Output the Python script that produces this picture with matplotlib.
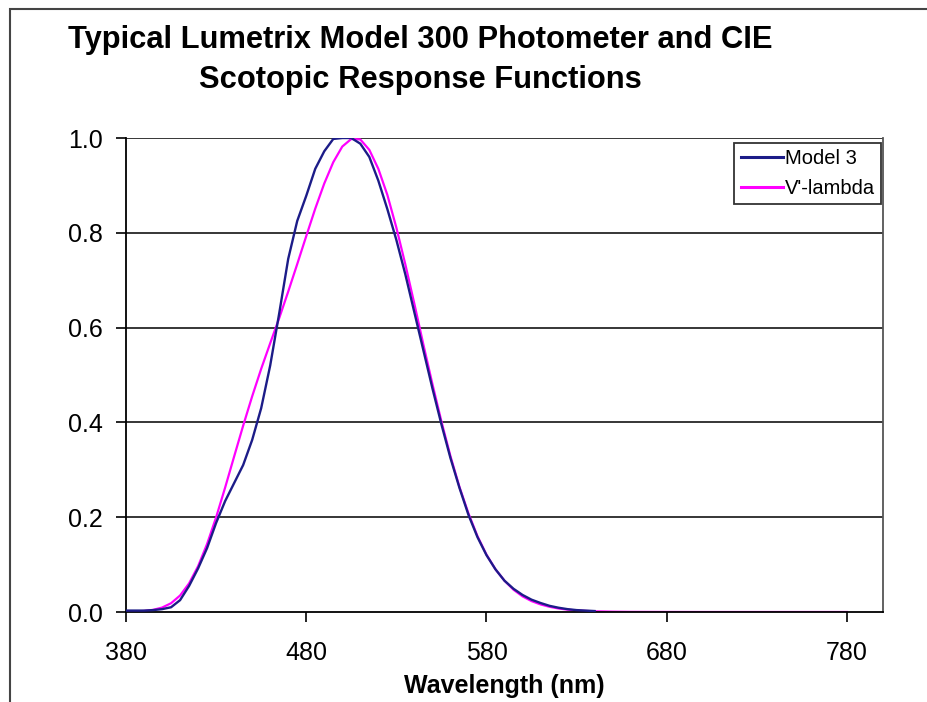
import numpy as np
import matplotlib
matplotlib.use("Agg")
import matplotlib.pyplot as plt
from matplotlib.patches import Rectangle

plt.rcParams['font.family'] = ['Liberation Sans', 'DejaVu Sans']

# wavelength grid (nm) for the meter curve
wl_model = [380, 385, 390, 395, 400, 405, 410, 415, 420, 425, 430, 435, 440,
            445, 450, 455, 460, 465, 470, 475, 480, 485, 490, 495, 500, 505,
            510, 515, 520, 525, 530, 535, 540, 545, 550, 555, 560, 565, 570,
            575, 580, 585, 590, 595, 600, 605, 610, 615, 620, 625, 630, 635, 640]
model3 = [0.003, 0.003, 0.003, 0.004, 0.006, 0.010, 0.025, 0.055, 0.092, 0.135,
          0.188, 0.234, 0.272, 0.310, 0.363, 0.430, 0.520, 0.630, 0.745, 0.825,
          0.878, 0.935, 0.972, 0.998, 1.000, 1.000, 0.988, 0.960, 0.910, 0.850,
          0.785, 0.712, 0.632, 0.552, 0.472, 0.396, 0.325, 0.262, 0.205, 0.158,
          0.120, 0.090, 0.066, 0.049, 0.036, 0.026, 0.019, 0.013, 0.009, 0.006,
          0.004, 0.003, 0.002]

# scotopic V'(lambda)
wl_vprime = [380, 385, 390, 395, 400, 405, 410, 415, 420, 425, 430, 435, 440,
             445, 450, 455, 460, 465, 470, 475, 480, 485, 490, 495, 500, 505,
             510, 515, 520, 525, 530, 535, 540, 545, 550, 555, 560, 565, 570,
             575, 580, 585, 590, 595, 600, 605, 610, 615, 620, 625, 630, 635,
             640, 650, 660, 680, 700, 740, 780]
vprime = [0.0006, 0.0011, 0.0022, 0.0045, 0.0093, 0.0185, 0.0348, 0.0604,
          0.0966, 0.1436, 0.1998, 0.2625, 0.3281, 0.3931, 0.455, 0.513, 0.567,
          0.620, 0.676, 0.734, 0.793, 0.851, 0.904, 0.949, 0.982, 0.998, 0.997,
          0.975, 0.935, 0.880, 0.811, 0.733, 0.650, 0.564, 0.481, 0.402, 0.329,
          0.264, 0.208, 0.160, 0.121, 0.090, 0.066, 0.047, 0.033, 0.023, 0.016,
          0.011, 0.0074, 0.005, 0.0033, 0.0022, 0.0015, 0.0007, 0.0003, 0.0001,
          0.0, 0.0, 0.0]

xticks = [380, 480, 580, 680, 780]
yticks = [0.0, 0.2, 0.4, 0.6, 0.8, 1.0]

fig = plt.figure(figsize=(9.27, 7.02), dpi=100)
ax = fig.add_axes([126 / 927, 90 / 702, 757 / 927, 474 / 702])

for y in yticks[1:]:
    ax.axhline(y, color='black', lw=1.1, zorder=1)

ax.plot(wl_model, model3, color='#1c1c88', lw=1.7, label='Model 3', zorder=3)
ax.plot(wl_vprime, vprime, color='#ff00ff', lw=1.6, label="V'-lambda", zorder=2)

ax.set_xlim(380, 800)
ax.set_ylim(0, 1)
ax.set_xticks(xticks)
ax.set_xticklabels([str(t) for t in xticks])
ax.set_yticks(yticks)
ax.set_yticklabels(['%.1f' % t for t in yticks])
ax.tick_params(axis='both', labelsize=18, length=7, width=1.2, direction='out')
ax.tick_params(axis='y', pad=10)
ax.tick_params(axis='x', pad=14)

for s in ['left', 'bottom']:
    ax.spines[s].set_color('black')
    ax.spines[s].set_linewidth(1.3)
ax.spines['top'].set_visible(False)
ax.spines['right'].set_color('#555555')
ax.spines['right'].set_linewidth(1.3)

ax.set_xlabel('Wavelength (nm)', fontsize=18, fontweight='bold', labelpad=6)

leg = ax.legend(loc='upper right', fontsize=14.5, frameon=True, fancybox=False,
                handlelength=2.1, handletextpad=0.1, borderpad=0.3,
                labelspacing=0.55, borderaxespad=0)
leg.set_bbox_to_anchor((881 / 927, (702 - 143) / 702), transform=fig.transFigure)
leg.get_frame().set_edgecolor('black')
leg.get_frame().set_linewidth(1.3)
for line in leg.get_lines():
    line.set_linewidth(2.2)

fig.text(420 / 927, 1 - 60 / 702,
         'Typical Lumetrix Model 300 Photometer and CIE\nScotopic Response Functions',
         ha='center', va='center', fontsize=22.2, fontweight='bold', linespacing=1.45)

fig.patches.append(Rectangle((10 / 927, -0.1), 1.2, 1.1 - 9 / 702,
                             transform=fig.transFigure, fill=False,
                             edgecolor='#444444', lw=1.5))

fig.savefig('out.png', dpi=100)
